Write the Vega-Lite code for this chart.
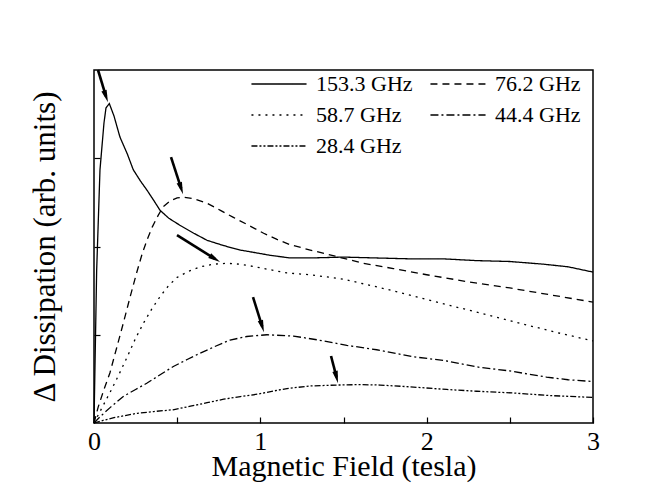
{
  "$schema": "https://vega.github.io/schema/vega-lite/v6.json",
  "width": 499,
  "height": 353,
  "autosize": "none",
  "padding": {"left": 94, "top": 70, "right": 61, "bottom": 77},
  "config": {
    "view": {"stroke": "#000", "strokeWidth": 1.5},
    "font": "Times New Roman, Liberation Serif, serif",
    "mark": {"color": "#000"},
    "style": {
      "guide-label": {"font": "Times New Roman, Liberation Serif, serif"},
      "guide-title": {"font": "Times New Roman, Liberation Serif, serif"}
    },
    "axis": {
      "domain": false, "grid": false, "tickColor": "#000", "tickWidth": 1.2,
      "labelColor": "#000", "titleColor": "#000", "titleFontWeight": "normal"
    },
    "legend": {
      "labelFont": "Times New Roman, Liberation Serif, serif",
      "labelFontSize": 22, "labelColor": "#000",
      "labelLimit": 0, "padding": 0
    }
  },
  "datasets": {
    "curves": [
      {"series": "153.3 GHz", "field": 0, "value": 0},
      {"series": "153.3 GHz", "field": 0.016, "value": 1.73},
      {"series": "153.3 GHz", "field": 0.036, "value": 2.87},
      {"series": "153.3 GHz", "field": 0.06, "value": 3.4},
      {"series": "153.3 GHz", "field": 0.072, "value": 3.57},
      {"series": "153.3 GHz", "field": 0.092, "value": 3.62},
      {"series": "153.3 GHz", "field": 0.12, "value": 3.48},
      {"series": "153.3 GHz", "field": 0.156, "value": 3.24},
      {"series": "153.3 GHz", "field": 0.2, "value": 3.05},
      {"series": "153.3 GHz", "field": 0.236, "value": 2.87},
      {"series": "153.3 GHz", "field": 0.28, "value": 2.74},
      {"series": "153.3 GHz", "field": 0.318, "value": 2.64},
      {"series": "153.3 GHz", "field": 0.36, "value": 2.52},
      {"series": "153.3 GHz", "field": 0.397, "value": 2.41},
      {"series": "153.3 GHz", "field": 0.45, "value": 2.32},
      {"series": "153.3 GHz", "field": 0.517, "value": 2.24},
      {"series": "153.3 GHz", "field": 0.6, "value": 2.15},
      {"series": "153.3 GHz", "field": 0.68, "value": 2.07},
      {"series": "153.3 GHz", "field": 0.78, "value": 2.01},
      {"series": "153.3 GHz", "field": 0.878, "value": 1.96},
      {"series": "153.3 GHz", "field": 0.97, "value": 1.93},
      {"series": "153.3 GHz", "field": 1.06, "value": 1.9},
      {"series": "153.3 GHz", "field": 1.18, "value": 1.87},
      {"series": "153.3 GHz", "field": 1.3, "value": 1.87},
      {"series": "153.3 GHz", "field": 1.5, "value": 1.88},
      {"series": "153.3 GHz", "field": 1.7, "value": 1.87},
      {"series": "153.3 GHz", "field": 1.9, "value": 1.86},
      {"series": "153.3 GHz", "field": 2.1, "value": 1.86},
      {"series": "153.3 GHz", "field": 2.3, "value": 1.84},
      {"series": "153.3 GHz", "field": 2.5, "value": 1.83},
      {"series": "153.3 GHz", "field": 2.7, "value": 1.8},
      {"series": "153.3 GHz", "field": 2.85, "value": 1.77},
      {"series": "153.3 GHz", "field": 3.0, "value": 1.71},
      {"series": "76.2 GHz", "field": 0, "value": 0},
      {"series": "76.2 GHz", "field": 0.025, "value": 0.18},
      {"series": "76.2 GHz", "field": 0.06, "value": 0.38},
      {"series": "76.2 GHz", "field": 0.096, "value": 0.57},
      {"series": "76.2 GHz", "field": 0.136, "value": 0.85},
      {"series": "76.2 GHz", "field": 0.176, "value": 1.13},
      {"series": "76.2 GHz", "field": 0.216, "value": 1.42},
      {"series": "76.2 GHz", "field": 0.256, "value": 1.7},
      {"series": "76.2 GHz", "field": 0.29, "value": 1.92},
      {"series": "76.2 GHz", "field": 0.318, "value": 2.07},
      {"series": "76.2 GHz", "field": 0.35, "value": 2.22},
      {"series": "76.2 GHz", "field": 0.385, "value": 2.35},
      {"series": "76.2 GHz", "field": 0.416, "value": 2.45},
      {"series": "76.2 GHz", "field": 0.46, "value": 2.52},
      {"series": "76.2 GHz", "field": 0.5, "value": 2.55},
      {"series": "76.2 GHz", "field": 0.537, "value": 2.56},
      {"series": "76.2 GHz", "field": 0.6, "value": 2.54},
      {"series": "76.2 GHz", "field": 0.68, "value": 2.49},
      {"series": "76.2 GHz", "field": 0.76, "value": 2.41},
      {"series": "76.2 GHz", "field": 0.838, "value": 2.33},
      {"series": "76.2 GHz", "field": 0.93, "value": 2.24},
      {"series": "76.2 GHz", "field": 1.02, "value": 2.15},
      {"series": "76.2 GHz", "field": 1.1, "value": 2.08},
      {"series": "76.2 GHz", "field": 1.18, "value": 2.02},
      {"series": "76.2 GHz", "field": 1.3, "value": 1.96},
      {"series": "76.2 GHz", "field": 1.45, "value": 1.89},
      {"series": "76.2 GHz", "field": 1.62, "value": 1.81},
      {"series": "76.2 GHz", "field": 1.8, "value": 1.75},
      {"series": "76.2 GHz", "field": 2.0, "value": 1.68},
      {"series": "76.2 GHz", "field": 2.25, "value": 1.6},
      {"series": "76.2 GHz", "field": 2.5, "value": 1.53},
      {"series": "76.2 GHz", "field": 2.75, "value": 1.45},
      {"series": "76.2 GHz", "field": 3.0, "value": 1.37},
      {"series": "58.7 GHz", "field": 0, "value": 0},
      {"series": "58.7 GHz", "field": 0.05, "value": 0.18},
      {"series": "58.7 GHz", "field": 0.1, "value": 0.36},
      {"series": "58.7 GHz", "field": 0.15, "value": 0.55},
      {"series": "58.7 GHz", "field": 0.2, "value": 0.75},
      {"series": "58.7 GHz", "field": 0.25, "value": 0.96},
      {"series": "58.7 GHz", "field": 0.3, "value": 1.14},
      {"series": "58.7 GHz", "field": 0.35, "value": 1.3},
      {"series": "58.7 GHz", "field": 0.4, "value": 1.44},
      {"series": "58.7 GHz", "field": 0.45, "value": 1.56},
      {"series": "58.7 GHz", "field": 0.5, "value": 1.65},
      {"series": "58.7 GHz", "field": 0.57, "value": 1.72},
      {"series": "58.7 GHz", "field": 0.64, "value": 1.77},
      {"series": "58.7 GHz", "field": 0.72, "value": 1.8},
      {"series": "58.7 GHz", "field": 0.8, "value": 1.81},
      {"series": "58.7 GHz", "field": 0.87, "value": 1.8},
      {"series": "58.7 GHz", "field": 0.94, "value": 1.78},
      {"series": "58.7 GHz", "field": 1.05, "value": 1.74},
      {"series": "58.7 GHz", "field": 1.16, "value": 1.7},
      {"series": "58.7 GHz", "field": 1.3, "value": 1.68},
      {"series": "58.7 GHz", "field": 1.5, "value": 1.63},
      {"series": "58.7 GHz", "field": 1.75, "value": 1.52},
      {"series": "58.7 GHz", "field": 2.0, "value": 1.4},
      {"series": "58.7 GHz", "field": 2.25, "value": 1.28},
      {"series": "58.7 GHz", "field": 2.5, "value": 1.16},
      {"series": "58.7 GHz", "field": 2.75, "value": 1.04},
      {"series": "58.7 GHz", "field": 3.0, "value": 0.93},
      {"series": "44.4 GHz", "field": 0, "value": 0},
      {"series": "44.4 GHz", "field": 0.036, "value": 0.07},
      {"series": "44.4 GHz", "field": 0.1, "value": 0.18},
      {"series": "44.4 GHz", "field": 0.176, "value": 0.3},
      {"series": "44.4 GHz", "field": 0.25, "value": 0.38},
      {"series": "44.4 GHz", "field": 0.317, "value": 0.45},
      {"series": "44.4 GHz", "field": 0.4, "value": 0.55},
      {"series": "44.4 GHz", "field": 0.477, "value": 0.64},
      {"series": "44.4 GHz", "field": 0.56, "value": 0.72},
      {"series": "44.4 GHz", "field": 0.637, "value": 0.79},
      {"series": "44.4 GHz", "field": 0.73, "value": 0.87},
      {"series": "44.4 GHz", "field": 0.818, "value": 0.94},
      {"series": "44.4 GHz", "field": 0.918, "value": 0.98},
      {"series": "44.4 GHz", "field": 1.04, "value": 1.0},
      {"series": "44.4 GHz", "field": 1.2, "value": 0.985},
      {"series": "44.4 GHz", "field": 1.35, "value": 0.94},
      {"series": "44.4 GHz", "field": 1.52, "value": 0.88},
      {"series": "44.4 GHz", "field": 1.7, "value": 0.83},
      {"series": "44.4 GHz", "field": 1.92, "value": 0.75},
      {"series": "44.4 GHz", "field": 2.1, "value": 0.71},
      {"series": "44.4 GHz", "field": 2.32, "value": 0.63},
      {"series": "44.4 GHz", "field": 2.5, "value": 0.59},
      {"series": "44.4 GHz", "field": 2.72, "value": 0.52},
      {"series": "44.4 GHz", "field": 2.85, "value": 0.49},
      {"series": "44.4 GHz", "field": 3.0, "value": 0.47},
      {"series": "28.4 GHz", "field": 0, "value": 0},
      {"series": "28.4 GHz", "field": 0.055, "value": 0.03},
      {"series": "28.4 GHz", "field": 0.12, "value": 0.06},
      {"series": "28.4 GHz", "field": 0.176, "value": 0.08},
      {"series": "28.4 GHz", "field": 0.26, "value": 0.11},
      {"series": "28.4 GHz", "field": 0.36, "value": 0.13},
      {"series": "28.4 GHz", "field": 0.475, "value": 0.15},
      {"series": "28.4 GHz", "field": 0.58, "value": 0.19},
      {"series": "28.4 GHz", "field": 0.68, "value": 0.23},
      {"series": "28.4 GHz", "field": 0.78, "value": 0.27},
      {"series": "28.4 GHz", "field": 0.88, "value": 0.3},
      {"series": "28.4 GHz", "field": 0.96, "value": 0.32},
      {"series": "28.4 GHz", "field": 1.02, "value": 0.34},
      {"series": "28.4 GHz", "field": 1.1, "value": 0.37},
      {"series": "28.4 GHz", "field": 1.16, "value": 0.39},
      {"series": "28.4 GHz", "field": 1.3, "value": 0.42},
      {"series": "28.4 GHz", "field": 1.46, "value": 0.43},
      {"series": "28.4 GHz", "field": 1.6, "value": 0.435},
      {"series": "28.4 GHz", "field": 1.72, "value": 0.43},
      {"series": "28.4 GHz", "field": 1.9, "value": 0.41},
      {"series": "28.4 GHz", "field": 2.12, "value": 0.38},
      {"series": "28.4 GHz", "field": 2.3, "value": 0.36},
      {"series": "28.4 GHz", "field": 2.52, "value": 0.34},
      {"series": "28.4 GHz", "field": 2.75, "value": 0.31},
      {"series": "28.4 GHz", "field": 3.0, "value": 0.29}
    ],
    "arrows": [
      {"x": 0.024, "y": 4.0, "hx": 0.072, "hy": 3.7, "angle": 161},
      {"x": 0.463, "y": 3.012, "hx": 0.524, "hy": 2.658, "angle": 162},
      {"x": 0.499, "y": 2.129, "hx": 0.727, "hy": 1.86, "angle": 122},
      {"x": 0.956, "y": 1.427, "hx": 1.011, "hy": 1.095, "angle": 163},
      {"x": 1.425, "y": 0.759, "hx": 1.458, "hy": 0.519, "angle": 166}
    ]
  },
  "layer": [
    {
      "data": {"name": "curves"},
      "mark": {"type": "line", "strokeWidth": 1.3, "color": "#000"},
      "encoding": {
        "x": {
          "field": "field", "type": "quantitative",
          "scale": {"domain": [0, 3], "nice": false},
          "axis": {
            "title": "Magnetic Field (tesla)",
            "values": [0, 0.5, 1, 1.5, 2, 2.5, 3],
            "labelExpr": "datum.value % 1 === 0 ? format(datum.value, 'd') : ''",
            "labelFlush": false,
            "labelFont": "Times New Roman, Liberation Serif, serif",
            "titleFont": "Times New Roman, Liberation Serif, serif",
            "tickSize": -6, "labelPadding": 11, "labelFontSize": 26,
            "titleFontSize": 30, "titlePadding": -3
          }
        },
        "y": {
          "field": "value", "type": "quantitative",
          "scale": {"domain": [0, 4], "nice": false},
          "axis": {
            "title": "\u0394 Dissipation (arb. units)",
            "values": [1, 2, 3], "labels": false,
            "titleFont": "Times New Roman, Liberation Serif, serif",
            "tickSize": -6, "titleFontSize": 31, "titlePadding": 32
          }
        },
        "strokeDash": {
          "field": "series", "type": "nominal",
          "scale": {
            "domain": ["153.3 GHz", "58.7 GHz", "28.4 GHz", "76.2 GHz", "44.4 GHz"],
            "range": [[1, 0], [2, 5], [6, 2, 2, 2, 2, 2], [7, 5], [8, 3, 2, 3]]
          },
          "legend": {
            "title": null, "orient": "none", "legendX": 165, "legendY": -6,
            "columns": 2, "symbolType": "M-1.45,0L1.45,0", "symbolSize": 1444,
            "symbolStrokeWidth": 1.3, "symbolStrokeColor": "#000",
            "symbolFillColor": "transparent",
            "labelOffset": 17, "rowPadding": 0, "columnPadding": 14
          }
        }
      }
    },
    {
      "data": {"name": "arrows"},
      "mark": {"type": "rule", "strokeWidth": 2.6, "color": "#000"},
      "encoding": {
        "x": {"field": "x", "type": "quantitative"},
        "y": {"field": "y", "type": "quantitative"},
        "x2": {"field": "hx"},
        "y2": {"field": "hy"}
      }
    },
    {
      "data": {"name": "arrows"},
      "mark": {
        "type": "point", "shape": "M0,-1L0.45,1L-0.45,1Z",
        "filled": true, "opacity": 1, "size": 150, "color": "#000"
      },
      "encoding": {
        "x": {"field": "hx", "type": "quantitative"},
        "y": {"field": "hy", "type": "quantitative"},
        "angle": {"field": "angle", "type": "quantitative", "scale": null}
      }
    }
  ]
}
